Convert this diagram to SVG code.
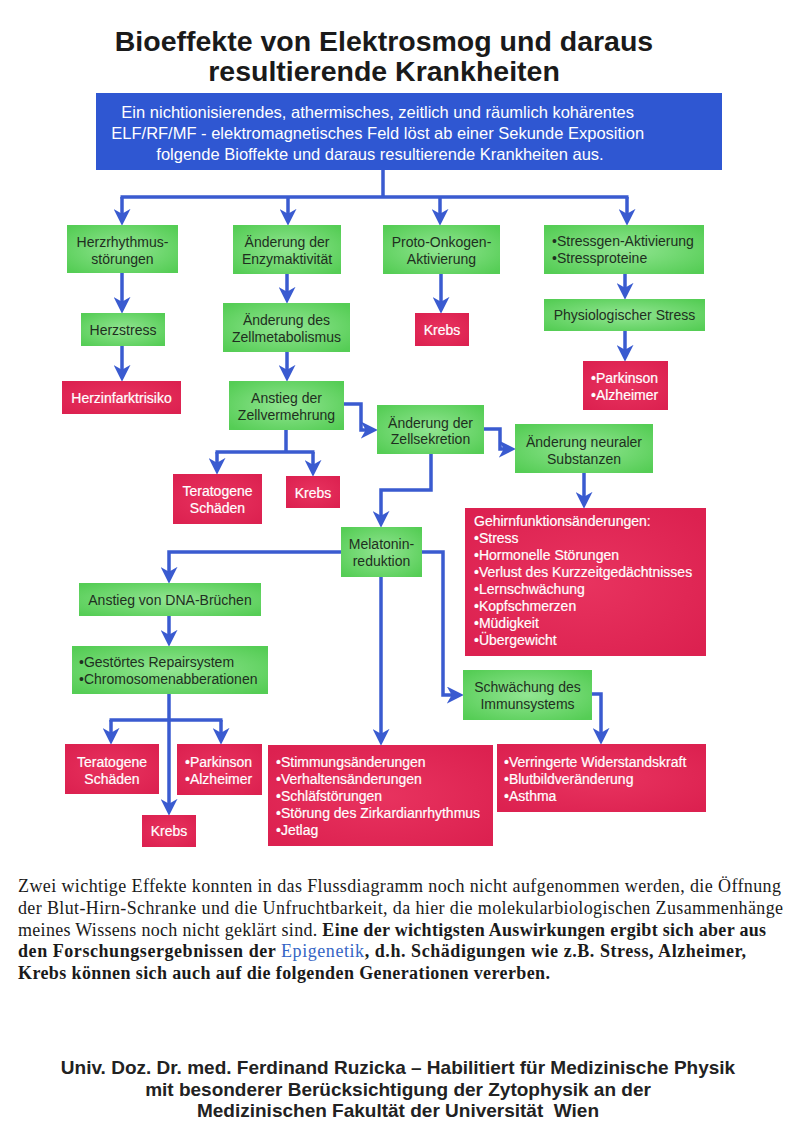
<svg xmlns="http://www.w3.org/2000/svg" width="800" height="1131" viewBox="0 0 800 1131">
<defs>
<radialGradient id="gGreen" cx="50%" cy="50%" r="65%">
<stop offset="0" stop-color="#92e592"/>
<stop offset="1" stop-color="#55cd55"/>
</radialGradient>
<radialGradient id="gRed" cx="50%" cy="50%" r="65%">
<stop offset="0" stop-color="#e8335f"/>
<stop offset="1" stop-color="#dc2150"/>
</radialGradient>
<marker id="ah" markerUnits="userSpaceOnUse" markerWidth="17" markerHeight="17" viewBox="0 0 14 14" refX="10" refY="7" orient="auto">
<path d="M0,0 L14,7 L0,14 L4,7 z" fill="#3a5bd0"/>
</marker>
</defs>
<style>
.g{fill:url(#gGreen);}
.r{fill:url(#gRed);}
.t{font-family:"Liberation Sans",Arial,sans-serif;font-size:14px;fill:#1f2f1f;}
.c{text-anchor:middle;}
.w{fill:#ffffff;stroke:#ffffff;stroke-width:0.2;}
.bt{font-family:"Liberation Sans",Arial,sans-serif;font-size:16.5px;fill:#ffffff;text-anchor:middle;}
.con{fill:none;stroke:#3a5bd0;stroke-width:3.5;}
.arr{marker-end:url(#ah);}
.p{font-family:"Liberation Serif","Times New Roman",serif;font-size:18px;fill:#1a1a1a;}
</style>
<rect width="800" height="1131" fill="#ffffff"/>

<g id="title" font-family="Liberation Sans,Arial,sans-serif" font-weight="bold" font-size="28.5" fill="#1a1a1a" text-anchor="middle">
<text x="384" y="51">Bioeffekte von Elektrosmog und daraus</text>
<text x="384" y="81">resultierende Krankheiten</text>
</g>

<g id="source">
<rect x="96" y="93" width="626" height="77" fill="#2f57d2"/>
<text class="bt">
<tspan x="380" y="118">Ein nichtionisierendes, athermisches, zeitlich und räumlich kohärentes</tspan>
<tspan x="380" y="139">ELF/RF/MF - elektromagnetisches Feld löst ab einer Sekunde Exposition</tspan>
<tspan x="380" y="160">folgende Bioffekte und daraus resultierende Krankheiten aus.</tspan>
</text>
</g>

<g id="connectors">
<path class="con" d="M383,170 V197 M120.5,197 H628.5"/>
<path class="con arr" d="M122,197 V221"/>
<path class="con arr" d="M288,197 V221"/>
<path class="con arr" d="M440,197 V221"/>
<path class="con arr" d="M627,197 V221"/>
<path class="con arr" d="M122,273 V309"/>
<path class="con arr" d="M122,346 V377"/>
<path class="con arr" d="M287,274 V299"/>
<path class="con arr" d="M287,352 V377"/>
<path class="con arr" d="M441,274 V309"/>
<path class="con arr" d="M625,274 V295"/>
<path class="con arr" d="M625,331 V357"/>
<path class="con arr" d="M344,404 H361 V430 H373"/>
<path class="con" d="M286,430 V452 M215.5,452 H314.5"/>
<path class="con arr" d="M217,452 V470"/>
<path class="con arr" d="M313,452 V472"/>
<path class="con arr" d="M484,429 H500 V449 H511"/>
<path class="con arr" d="M431,454 V490 H381 V523"/>
<path class="con arr" d="M584,473 V504"/>
<path class="con arr" d="M341,552 H169 V579"/>
<path class="con arr" d="M169,616 V642"/>
<path class="con arr" d="M422,552 H443 V695 H459"/>
<path class="con arr" d="M381,577 V741"/>
<path class="con arr" d="M592,694 H601 V740"/>
<path class="con arr" d="M169,694 V811"/>
<path class="con" d="M109.5,720 H222.5"/>
<path class="con arr" d="M111,720 V740"/>
<path class="con arr" d="M221,720 V740"/>
</g>

<g id="n-herzrhythmus"><rect class="g" x="67" y="225" width="111" height="48"/>
<text class="t c"><tspan x="122.5" y="247">Herzrhythmus-</tspan><tspan x="122.5" y="264">störungen</tspan></text></g>
<g id="n-enzym"><rect class="g" x="233" y="225" width="108" height="49"/>
<text class="t c"><tspan x="287" y="247">Änderung der</tspan><tspan x="287" y="264">Enzymaktivität</tspan></text></g>
<g id="n-proto"><rect class="g" x="383" y="225" width="117" height="49"/>
<text class="t c"><tspan x="441.5" y="247">Proto-Onkogen-</tspan><tspan x="441.5" y="264">Aktivierung</tspan></text></g>
<g id="n-stressgen"><rect class="g" x="544" y="225" width="160" height="49"/>
<text class="t"><tspan x="552" y="246">•Stressgen-Aktivierung</tspan><tspan x="552" y="263">•Stressproteine</tspan></text></g>

<g id="n-herzstress"><rect class="g" x="81" y="313" width="84" height="33"/>
<text class="t c" x="123" y="335">Herzstress</text></g>
<g id="n-zellmetab"><rect class="g" x="223" y="303" width="127" height="49"/>
<text class="t c"><tspan x="286.5" y="325">Änderung des</tspan><tspan x="286.5" y="342">Zellmetabolismus</tspan></text></g>
<g id="n-krebs1"><rect class="r" x="415" y="313" width="54" height="33"/>
<text class="t c w" x="442" y="335">Krebs</text></g>
<g id="n-phys"><rect class="g" x="544" y="299" width="161" height="32"/>
<text class="t c" x="624.5" y="320">Physiologischer Stress</text></g>

<g id="n-herzinfarkt"><rect class="r" x="62" y="381" width="119" height="33"/>
<text class="t c w" x="121.5" y="402.5">Herzinfarktrisiko</text></g>
<g id="n-zellverm"><rect class="g" x="229" y="381" width="115" height="49"/>
<text class="t c"><tspan x="286.5" y="403">Anstieg der</tspan><tspan x="286.5" y="420">Zellvermehrung</tspan></text></g>
<g id="n-parkinson1"><rect class="r" x="583" y="361" width="85" height="49"/>
<text class="t w"><tspan x="591" y="383">•Parkinson</tspan><tspan x="591" y="400">•Alzheimer</tspan></text></g>

<g id="n-zellsek"><rect class="g" x="377" y="405" width="107" height="49"/>
<text class="t c"><tspan x="430.5" y="428">Änderung der</tspan><tspan x="430.5" y="444">Zellsekretion</tspan></text></g>
<g id="n-neural"><rect class="g" x="515" y="424" width="138" height="49"/>
<text class="t c"><tspan x="584" y="447">Änderung neuraler</tspan><tspan x="584" y="464">Substanzen</tspan></text></g>

<g id="n-terat1"><rect class="r" x="173" y="474" width="89" height="50"/>
<text class="t c w"><tspan x="217.5" y="496">Teratogene</tspan><tspan x="217.5" y="513">Schäden</tspan></text></g>
<g id="n-krebs2"><rect class="r" x="286" y="476" width="54" height="32"/>
<text class="t c w" x="313" y="497.5">Krebs</text></g>

<g id="n-gehirn"><rect class="r" x="465" y="508" width="241" height="148"/>
<text class="t w">
<tspan x="474" y="526">Gehirnfunktionsänderungen:</tspan>
<tspan x="474" y="543">•Stress</tspan>
<tspan x="474" y="560">•Hormonelle Störungen</tspan>
<tspan x="474" y="577">•Verlust des Kurzzeitgedächtnisses</tspan>
<tspan x="474" y="594">•Lernschwächung</tspan>
<tspan x="474" y="611">•Kopfschmerzen</tspan>
<tspan x="474" y="628">•Müdigkeit</tspan>
<tspan x="474" y="645">•Übergewicht</tspan>
</text></g>

<g id="n-melatonin"><rect class="g" x="341" y="527" width="81" height="50"/>
<text class="t c"><tspan x="381.5" y="549">Melatonin-</tspan><tspan x="381.5" y="566">reduktion</tspan></text></g>

<g id="n-dna"><rect class="g" x="79" y="583" width="182" height="33"/>
<text class="t c" x="170" y="605">Anstieg von DNA-Brüchen</text></g>
<g id="n-gestoert"><rect class="g" x="72" y="646" width="196" height="48"/>
<text class="t"><tspan x="79" y="667">•Gestörtes Repairsystem</tspan><tspan x="79" y="684">•Chromosomenabberationen</tspan></text></g>
<g id="n-schwaechung"><rect class="g" x="463" y="670" width="129" height="50"/>
<text class="t c"><tspan x="527.5" y="692">Schwächung des</tspan><tspan x="527.5" y="709">Immunsystems</tspan></text></g>

<g id="n-terat2"><rect class="r" x="65" y="744" width="94" height="50"/>
<text class="t c w"><tspan x="112" y="767">Teratogene</tspan><tspan x="112" y="784">Schäden</tspan></text></g>
<g id="n-parkinson2"><rect class="r" x="177" y="744" width="85" height="51"/>
<text class="t w"><tspan x="185" y="767">•Parkinson</tspan><tspan x="185" y="784">•Alzheimer</tspan></text></g>
<g id="n-stimmung"><rect class="r" x="268" y="745" width="225" height="101"/>
<text class="t w">
<tspan x="276" y="767">•Stimmungsänderungen</tspan>
<tspan x="276" y="784">•Verhaltensänderungen</tspan>
<tspan x="276" y="801">•Schläfstörungen</tspan>
<tspan x="276" y="818">•Störung des Zirkardianrhythmus</tspan>
<tspan x="276" y="835">•Jetlag</tspan>
</text></g>
<g id="n-verringerte"><rect class="r" x="497" y="744" width="209" height="68"/>
<text class="t w">
<tspan x="504" y="767">•Verringerte Widerstandskraft</tspan>
<tspan x="504" y="784">•Blutbildveränderung</tspan>
<tspan x="504" y="801">•Asthma</tspan>
</text></g>
<g id="n-krebs3"><rect class="r" x="142" y="815" width="54" height="32"/>
<text class="t c w" x="169" y="836">Krebs</text></g>

<g id="paragraph">
<text class="p" x="18" y="892" textLength="763">Zwei wichtige Effekte konnten in das Flussdiagramm noch nicht aufgenommen werden, die Öffnung</text>
<text class="p" x="18" y="914" textLength="765">der Blut-Hirn-Schranke und die Unfruchtbarkeit, da hier die molekularbiologischen Zusammenhänge</text>
<text class="p" x="18" y="936" textLength="748">meines Wissens noch nicht geklärt sind. <tspan font-weight="bold">Eine der wichtigsten Auswirkungen ergibt sich aber aus</tspan></text>
<text class="p" x="18" y="957" font-weight="bold" textLength="728">den Forschungsergebnissen der <tspan font-weight="normal" style="fill:#3565c5">Epigenetik</tspan>, d.h. Schädigungen wie z.B. Stress, Alzheimer,</text>
<text class="p" x="18" y="979" font-weight="bold" textLength="532">Krebs können sich auch auf die folgenden Generationen vererben.</text>
</g>

<g id="footer" font-family="Liberation Sans,Arial,sans-serif" font-weight="bold" font-size="19" fill="#222222" text-anchor="middle">
<text x="398" y="1074">Univ. Doz. Dr. med. Ferdinand Ruzicka – Habilitiert für Medizinische Physik</text>
<text x="398" y="1096">mit besonderer Berücksichtigung der Zytophysik an der</text>
<text x="398" y="1117">Medizinischen Fakultät der Universität&#160; Wien</text>
</g>
</svg>
